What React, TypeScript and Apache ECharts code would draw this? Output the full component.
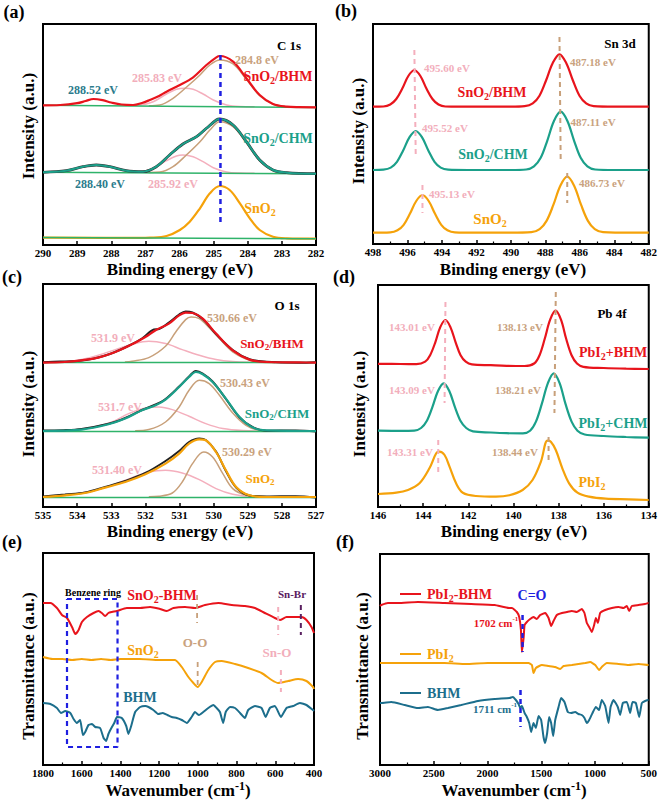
import React, { useEffect, useRef } from 'react';
import * as echarts from 'echarts';

const FONT = '"Liberation Serif", "Times New Roman", serif';
const COL = {
  red: '#e8141c', teal: '#1ba08a', orange: '#f5a20a', pink: '#f4afbd', tan: '#c8a07a',
  green: '#2fb36a', black: '#222222', dteal: '#1c6e8c', blue: '#1f1fe0', purple: '#5a2060',
  pinkLbl: '#f2aebb', tanLbl: '#c9a27e', lblTeal: '#2b7b8c',
};

// ---------- Panel (a) C 1s ----------
const aBhmEnv = [[290,139.7],[289.5,140],[289,141.8],[288.75,144],[288.52,146],[288.25,144.8],[288,142.5],[287.7,140.5],[287.36,140],[287.1,142],[286.87,145],[286.6,149],[286.38,153.3],[285.99,160],[285.6,167.7],[285.21,180],[284.92,187.7],[284.82,189],[284.43,183.3],[284.04,166.7],[283.65,150],[283.26,141],[282.86,138.3],[282.5,137.8],[282,137.7]];
const aBhmTan = [[286.9,139.3],[286.58,140],[286.19,146.7],[285.8,157.7],[285.4,170],[285.11,180],[284.82,185],[284.43,181],[284.04,165.7],[283.65,149.3],[283.26,140.7],[282.86,138],[282.5,137.8]];
const aBhmPink = [[287.5,139.6],[287.17,139.9],[286.77,143.3],[286.38,151],[286.09,155.7],[285.85,156.7],[285.6,155.7],[285.31,151],[285.01,145],[284.62,140],[284.23,138.5],[283.8,138.3]];
const aBhmBase = [[290,139.7],[282,137.5]];
const aChmEnv = [[290,72.7],[289.32,74.3],[288.83,78.3],[288.44,80],[288.04,78.3],[287.56,74.3],[287.07,73.3],[286.68,78.3],[286.29,90],[285.9,101],[285.5,108.3],[285.21,116.7],[284.92,125],[284.82,126],[284.43,120],[284.04,103.3],[283.65,85],[283.26,75],[282.86,72.3],[282,71.3]];
const aChmTan = [[286.9,72.6],[286.58,72.9],[286.19,78.3],[285.8,90],[285.4,103.3],[285.11,115],[284.82,123.3],[284.43,118.3],[284.04,102.3],[283.65,84.3],[283.26,74.3],[282.86,71.7],[282.5,71.4]];
const aChmPink = [[287.5,72.8],[287.17,73],[286.77,76.7],[286.38,84.3],[286.09,89],[285.9,90],[285.6,88.3],[285.31,83.3],[285.01,77.3],[284.62,73],[284.23,71.9],[283.8,71.7]];
const aChmBase = [[290,72.7],[282,71.3]];
const aSno2 = [[290,7.3],[287,7.2],[286.87,7.3],[286.38,9],[285.99,15],[285.7,23.3],[285.4,36.7],[285.11,51.7],[284.82,59],[284.53,55],[284.23,41.7],[283.94,26.7],[283.65,15],[283.26,8.3],[282.86,6.7],[282,6.3]];
const aSno2Base = [[290,7.5],[282,6.3]];
const aDash = [[284.8,23],[284.8,190]];

// ---------- Panel (b) Sn 3d ----------
const bBhm = [[498,137.3],[497.4,137.5],[497.0,139.5],[496.65,145],[496.3,155.5],[495.95,168],[495.6,174],[495.25,168],[494.9,155.5],[494.55,145],[494.2,139.5],[493.8,137.5],[493,137.3],[490,137.3],[489.2,137.8],[488.73,140.6],[488.34,148.3],[487.96,163.5],[487.57,181],[487.18,189.7],[486.79,181],[486.4,163.5],[486.02,148.3],[485.63,140.6],[485.2,137.8],[484,137.3],[482,137.3]];
const bChm = [[498,74],[497.4,74.4],[496.97,76.4],[496.61,82.2],[496.25,93.5],[495.88,106.8],[495.52,113],[495.16,106.8],[494.79,93.5],[494.43,82.2],[494.07,76.4],[493.64,74.4],[492.5,74],[490,74],[489.11,74.5],[488.66,77.6],[488.27,86.2],[487.89,103.2],[487.5,123],[487.11,132.3],[486.72,123],[486.33,103.2],[485.95,86.2],[485.56,77.6],[485.11,74.5],[484,74],[482,74]];
const bSno2 = [[498,11.3],[497,11.6],[496.58,13.7],[496.22,19.2],[495.86,30.2],[495.49,43],[495.13,49],[494.77,43],[494.4,30.2],[494.04,19.2],[493.68,13.7],[493.25,11.6],[492,11.3],[490,11.3],[488.81,11.8],[488.33,14.8],[487.93,23.1],[487.53,39.3],[487.13,58.3],[486.73,67.3],[486.33,58.3],[485.93,39.3],[485.53,23.1],[485.13,14.8],[484.65,11.8],[483,11.3],[482,11.3]];
const bDashPinkUp = [[495.6,194],[495.52,87]];
const bDashPinkLow = [[495.13,59],[495.13,31]];
const bDashTanUp = [[487.18,207],[487.11,84]];
const bDashTanLow = [[486.73,71],[486.73,41]];

// ---------- Panel (c) O 1s ----------
const cBhmEnv = [[535,144.4],[534.36,145],[533.87,146.7],[533.38,149.4],[532.88,155],[532.39,162.7],[532,170],[531.7,176.7],[531.31,183.4],[531.01,191.7],[530.82,194.4],[530.62,194],[530.32,188.4],[529.93,173.4],[529.44,156.7],[528.95,147.4],[528.45,145],[527.5,144.6],[527,144.4]];
const cBhmRaw = [[535,144.8],[534.5,145.5],[534,146],[533.5,148.5],[533,153.5],[532.5,161],[532.1,168.5],[531.75,177.5],[531.6,178],[531.31,184.5],[531.01,192.5],[530.82,195.5],[530.62,194.5],[530.32,188],[529.93,173],[529.44,157],[528.95,147.8],[528.45,145.3],[527.5,144.2],[527,144.8]];
const cBhmTan = [[532.6,145],[532.39,145.7],[531.9,149.4],[531.41,160.7],[531.11,175],[530.82,187.4],[530.66,190],[530.42,188.4],[530.13,179.4],[529.83,168.4],[529.44,155],[529.05,148],[528.65,145],[528.2,144.5]];
const cBhmPink = [[535,144.6],[534.36,145.4],[533.87,147.4],[533.38,151.7],[532.88,157.4],[532.39,162.7],[531.9,165.7],[531.41,163.4],[530.92,157.4],[530.42,151.7],[529.93,147.4],[529.44,145.4],[528.85,144.7],[528,144.4]];
const cBhmBase = [[535,144.4],[527,144.4]];
const cChmEnv = [[535,76],[533.87,77.4],[533.08,82.7],[532.59,88.4],[532.1,96.7],[531.7,101.7],[531.41,107.4],[531.01,120],[530.72,130],[530.52,135],[530.32,132.7],[530.03,125],[529.64,108.4],[529.24,90],[528.85,79.4],[528.45,76.7],[527,76]];
const cChmRaw = [[535,76.5],[534.4,76.8],[533.87,78],[533.08,83.2],[532.59,89],[532.1,97],[531.7,102.5],[531.41,108],[531.01,120.5],[530.72,130.5],[530.52,136],[530.32,133.5],[530.03,125.5],[529.64,108],[529.24,89.5],[528.85,79.8],[528.45,76.3],[527.6,76.5],[527,75.6]];
const cChmTan = [[532.3,76.2],[531.9,77.4],[531.41,85],[531.01,100],[530.72,116.7],[530.42,126.7],[530.13,123.4],[529.83,111.7],[529.44,94],[529.05,81.7],[528.65,76.7],[528.2,76]];
const cChmPink = [[535,76.1],[534.36,76.4],[533.57,79.4],[532.98,85],[532.49,93.4],[532,99],[531.6,100],[531.21,97.4],[530.72,90.7],[530.23,83.4],[529.73,78.4],[529.14,76.4],[528.5,76]];
const cChmBase = [[535,75.6],[527,75.6]];
const cSnoEnv = [[535,10],[534.36,11.7],[533.77,14],[533.18,19.4],[532.59,25],[532,32.7],[531.41,43.4],[531.01,53.4],[530.72,63.4],[530.42,67.7],[530.23,66.7],[529.93,55],[529.64,36.7],[529.34,20],[528.95,11.7],[528.45,10],[527,10]];
const cSnoRaw = [[535,10.5],[534.36,12.5],[533.77,14.5],[533.18,20],[532.59,26],[532,34],[531.41,46],[531.01,56],[530.72,65],[530.42,68.5],[530.23,67],[529.93,55.5],[529.64,36],[529.34,19.5],[528.95,11.5],[528.45,10.5],[527.6,10.8],[527,9.5]];
const cSnoTan = [[531.9,10.2],[531.6,10.7],[531.21,14],[530.92,25],[530.62,43.4],[530.29,55],[530.03,50],[529.73,33.4],[529.44,18.4],[529.05,11.7],[528.65,10],[528.2,10]];
const cSnoPink = [[535,10.1],[534.36,11.4],[533.57,16],[532.98,21.7],[532.39,29.4],[531.9,35],[531.41,36.7],[530.92,34],[530.42,27.4],[529.93,18.4],[529.44,12.7],[528.85,10.4],[528,10]];
const cSnoBase = [[535,9.4],[527,9.4]];

// ---------- Panel (d) Pb 4f ----------
const dBhm = [[146,143.2],[145,143],[144.3,142.9],[143.91,145.3],[143.69,151.8],[143.46,164.7],[143.24,179.9],[143.01,187],[142.79,179.9],[142.56,164.7],[142.34,151.8],[142.11,145.3],[141.84,142.6],[141,141.8],[140.3,141.2],[139.5,141],[139.08,143.5],[138.84,151.8],[138.61,168.2],[138.37,187.3],[138.13,196.3],[137.89,187.3],[137.66,168.2],[137.42,151.8],[137.18,143.5],[136.9,140.2],[136,139],[135,138.3],[134,138]];
const dChm = [[146,76.3],[145,76.2],[144.39,76.4],[144.09,79],[143.84,86],[143.59,99.9],[143.34,116],[143.09,123.7],[142.84,116],[142.59,99.9],[142.34,86],[142.09,79],[141.79,75.6],[141,74.5],[140.3,73.8],[139.58,73.6],[139.26,76.3],[139,85.4],[138.74,103.1],[138.47,123.9],[138.21,133.7],[137.95,123.9],[137.69,103.1],[137.42,85.4],[137.16,76.3],[136.84,72.5],[136,71],[135,70],[134,69.3]];
const dPbi2 = [[146,13],[145.19,14.3],[144.67,17],[144.16,23.7],[143.72,38.7],[143.42,53.7],[143.28,55.3],[143.05,52],[142.83,40.3],[142.54,23.7],[142.24,14.3],[141.66,11],[140.77,10.3],[140.18,11.7],[139.59,17],[139.15,27],[138.78,45.3],[138.49,66.3],[138.34,65.3],[138.12,57],[137.83,38.7],[137.53,23.7],[137.16,14.3],[136.65,10.3],[135.91,8.3],[134.88,7.7],[134,7]];
const dDashPinkUp = [[143.01,205],[143.05,104]];
const dDashPinkLow = [[143.33,67],[143.33,34]];
const dDashTanUp = [[138.12,215],[138.18,94]];
const dDashTanLow = [[138.44,70],[138.44,44]];

// ---------- Panel (e) FTIR ----------
const eSnoBhm = [[1800,162],[1762,162],[1728,157],[1702,150],[1676,147],[1650,138],[1633,131],[1616,135],[1599,143],[1573,148],[1539,152],[1513,154],[1496,152],[1479,149],[1462,152],[1444,153],[1418,154],[1367,157],[1298,157],[1247,158],[1195,156],[1161,154],[1126,157],[1066,158],[1015,157],[963,160],[894,162],[825,160],[757,159],[705,157],[654,152],[602,147],[576,145],[542,148],[499,148],[464,148],[439,145],[413,138],[400,132]];
const eSno2 = [[1800,108],[1750,106],[1700,106],[1650,105],[1600,106],[1550,105],[1500,106],[1450,105],[1400,106],[1350,106],[1300,106],[1200,105],[1126,105],[1118,105],[1083,98],[1049,88],[1023,82],[1001,78],[980,83],[946,95],[911,103],[877,104],[808,101],[740,97],[671,92],[619,85],[585,82],[533,84],[482,86],[439,84],[405,78],[400,76]];
const eBhm = [[1800,62],[1762,61],[1728,57],[1707,52],[1685,54],[1659,52],[1642,46],[1625,42],[1608,45],[1594,30],[1582,33],[1565,40],[1547,41],[1530,38],[1505,37],[1487,27],[1474,24],[1462,31],[1444,38],[1432,42],[1418,48],[1393,47],[1370,39],[1359,31],[1346,38],[1324,53],[1298,58],[1272,59],[1255,58],[1230,55],[1204,51],[1181,52],[1157,50],[1135,48],[1109,47],[1083,45],[1057,42],[1032,48],[1015,53],[994,50],[972,53],[946,57],[920,60],[903,57],[886,53],[869,42],[856,53],[834,58],[808,57],[782,52],[757,47],[740,55],[705,59],[671,57],[650,48],[628,57],[602,59],[571,48],[542,57],[508,59],[473,62],[439,60],[405,55],[400,54]];
const eRect = [[1676,166],[1415,166],[1415,18],[1676,18],[1676,166]];
const eDashOOUp = [[1004,170],[1004,142]];
const eDashOOLow = [[1001,103],[1001,78]];
const eDashSnOUp = [[585,158],[585,130]];
const eDashSnOLow = [[571,95],[571,73]];
const eDashSnBr = [[468,160],[468,130]];

// ---------- Panel (f) FTIR ----------
const fPbBhm = [[3000,159],[2988,160],[2926,162],[2833,162],[2647,163],[2399,162],[2151,161],[1934,160],[1800,157],[1773,157],[1727,153],[1705,148],[1689,135],[1680,113],[1664,127],[1655,140],[1634,143],[1603,146],[1572,148],[1541,146],[1510,150],[1464,152],[1432,147],[1408,139],[1386,144],[1355,150],[1308,152],[1262,153],[1215,154],[1169,153],[1123,156],[1098,152],[1076,142],[1054,138],[1029,133],[1008,140],[992,147],[973,142],[952,152],[905,155],[843,157],[781,158],[735,157],[704,159],[682,154],[657,159],[595,160],[534,161],[502,162],[500,162]];
const fPbi2 = [[3000,102],[2800,102],[2600,102],[2400,102],[2200,101],[2000,102],[1800,102],[1773,102],[1618,102],[1587,100],[1572,92],[1550,97],[1494,100],[1432,99],[1370,98],[1324,96],[1292,99],[1215,100],[1092,102],[1045,103],[998,100],[962,95],[937,98],[890,102],[781,101],[688,100],[595,101],[502,100],[500,100]];
const fBhm = [[3000,62],[2988,62],[2895,63],[2770,60],[2647,57],[2554,58],[2461,55],[2368,57],[2244,60],[2089,64],[1934,66],[1795,67],[1764,68],[1736,65],[1711,61],[1696,57],[1680,59],[1655,52],[1634,48],[1612,42],[1594,33],[1572,42],[1550,37],[1525,49],[1501,45],[1479,28],[1464,22],[1445,32],[1427,48],[1408,42],[1389,29],[1370,45],[1339,58],[1315,67],[1284,63],[1253,53],[1222,52],[1185,53],[1153,51],[1123,50],[1098,47],[1076,42],[1054,45],[1023,52],[992,58],[962,55],[937,65],[905,59],[874,42],[855,58],[828,65],[788,58],[766,50],[741,62],[704,63],[673,52],[651,63],[620,62],[589,48],[564,62],[534,64],[502,65],[500,65]];
const fDashPb = [[1674,150],[1674,113]];
const fDashBhm = [[1693,75],[1693,38]];

// axis ranges
const xRanges = [
  { min: 282, max: 290, interval: 1, minor: false },
  { min: 482, max: 498, interval: 2, minor: true },
  { min: 527, max: 535, interval: 1, minor: false },
  { min: 134, max: 146, interval: 2, minor: true },
  { min: 400, max: 1800, interval: 200, minor: true },
  { min: 500, max: 3000, interval: 500, minor: true },
];
const yMax = [221, 220, 223, 222, 212, 211];

const grids = [
  { left: 43, top: 24, width: 273, height: 221 },
  { left: 373, top: 24, width: 277, height: 220 },
  { left: 43, top: 284, width: 273, height: 223 },
  { left: 378, top: 285, width: 272, height: 222 },
  { left: 43, top: 553, width: 271, height: 212 },
  { left: 380, top: 554, width: 269, height: 211 },
];

function L(g: number, data: number[][], color: string, width: number, z = 3, smooth: any = 0.35) {
  return { type: 'line', xAxisIndex: g, yAxisIndex: g, data, symbol: 'none', showSymbol: false, smooth, silent: true, z, lineStyle: { color, width } };
}
function D(g: number, data: number[][], color: string, width = 2, z = 6) {
  return { type: 'line', xAxisIndex: g, yAxisIndex: g, data, symbol: 'none', showSymbol: false, smooth: false, silent: true, z, lineStyle: { color, width, type: [5, 4] } };
}

function rich(size: number, color: string) {
  const s = Math.round(size * 0.68);
  return {
    m: { font: `bold ${size}px ${FONT}`, fill: color, lineHeight: size + 4, verticalAlign: 'middle' },
    s: { font: `bold ${s}px ${FONT}`, fill: color, lineHeight: s, verticalAlign: 'bottom' },
    p: { font: `bold ${s}px ${FONT}`, fill: color, lineHeight: s, verticalAlign: 'top' },
  };
}
function T(x: number, y: number, text: string, color: string, size: number, align = 'center', rot = 0) {
  return {
    type: 'text', x, y, rotation: rot, z: 100, silent: true,
    style: {
      text, fill: color, font: `bold ${size}px ${FONT}`,
      align, verticalAlign: 'middle', textAlign: align, textVerticalAlign: 'middle',
      rich: rich(size, color),
    },
  };
}
function GL(x1: number, y1: number, x2: number, y2: number, color: string) {
  return { type: 'line', z: 100, silent: true, shape: { x1, y1, x2, y2 }, style: { stroke: color, lineWidth: 2 } };
}

export default function App() {
  const ref = useRef<HTMLDivElement>(null);
  useEffect(() => {
    if (!ref.current) return;
    const chart = echarts.init(ref.current, undefined, { renderer: 'svg' });
    const xAxis = xRanges.map((r, i) => ({
      gridIndex: i, type: 'value', min: r.min, max: r.max, interval: r.interval, inverse: true,
      axisLine: { show: true, onZero: false, lineStyle: { color: '#000', width: 2 } },
      axisTick: { show: true, inside: true, length: 4, lineStyle: { color: '#000', width: 1.5 } },
      minorTick: { show: r.minor, splitNumber: 2, length: 2.5, lineStyle: { color: '#000', width: 1.2 } },
      axisLabel: {
        show: true, color: '#000', fontSize: 11, fontWeight: 'bold', fontFamily: FONT, margin: 2,
        showMinLabel: true, showMaxLabel: true, formatter: (v: number) => String(v),
      },
      splitLine: { show: false }, minorSplitLine: { show: false },
    }));
    const yAxis = yMax.map((m, i) => ({
      gridIndex: i, type: 'value', min: 0, max: m,
      axisLine: { show: false }, axisTick: { show: false }, axisLabel: { show: false }, splitLine: { show: false },
    }));
    const series: any[] = [
      // (a)
      L(0, aBhmPink, COL.pink, 1.5, 2), L(0, aBhmTan, COL.tan, 1.5, 2), L(0, aBhmBase, COL.green, 1.5, 3, false), L(0, aBhmEnv, COL.red, 2.2, 4),
      L(0, aChmPink, COL.pink, 1.5, 2), L(0, aChmTan, COL.tan, 1.5, 2), L(0, aChmBase, COL.green, 1.5, 3, false), L(0, aChmEnv, '#333', 2.8, 3), L(0, aChmEnv, COL.teal, 2.0, 4),
      L(0, aSno2, COL.orange, 2.2, 4), L(0, aSno2Base, COL.green, 1.5, 5, false),
      D(0, aDash, COL.blue, 2.5),
      // (b)
      L(1, bBhm, COL.red, 2.2, 4), L(1, bChm, COL.teal, 2.2, 4), L(1, bSno2, COL.orange, 2.2, 4),
      D(1, bDashPinkUp, COL.pink), D(1, bDashPinkLow, COL.pink), D(1, bDashTanUp, COL.tan), D(1, bDashTanLow, COL.tan),
      // (c)
      L(2, cBhmPink, COL.pink, 1.5, 2), L(2, cBhmTan, COL.tan, 1.5, 2), L(2, cBhmBase, COL.green, 1.5, 3, false), L(2, cBhmRaw, COL.black, 2, 3), L(2, cBhmEnv, COL.red, 2.2, 4),
      L(2, cChmPink, COL.pink, 1.5, 2), L(2, cChmTan, COL.tan, 1.5, 2), L(2, cChmBase, COL.green, 1.5, 3, false), L(2, cChmRaw, COL.black, 2, 3), L(2, cChmEnv, COL.teal, 2.2, 4),
      L(2, cSnoPink, COL.pink, 1.5, 2), L(2, cSnoTan, COL.tan, 1.5, 2), L(2, cSnoBase, COL.green, 1.5, 3, false), L(2, cSnoRaw, COL.black, 2, 3), L(2, cSnoEnv, COL.orange, 2.2, 4),
      // (d)
      L(3, dBhm, COL.red, 2.2, 4), L(3, dChm, COL.teal, 2.2, 4), L(3, dPbi2, COL.orange, 2.2, 4),
      D(3, dDashPinkUp, COL.pink), D(3, dDashPinkLow, COL.pink), D(3, dDashTanUp, COL.tan), D(3, dDashTanLow, COL.tan),
      // (e)
      L(4, eSnoBhm, COL.red, 2, 4, 0.2), L(4, eSno2, COL.orange, 2, 4, 0.2), L(4, eBhm, COL.dteal, 2, 4, 0.15),
      D(4, eRect, COL.blue, 2.2, 7),
      D(4, eDashOOUp, COL.tan, 1.8), D(4, eDashOOLow, COL.tan, 1.8), D(4, eDashSnOUp, COL.pink, 2), D(4, eDashSnOLow, COL.pink, 2), D(4, eDashSnBr, COL.purple, 2),
      // (f)
      L(5, fPbBhm, COL.red, 2, 4, 0.15), L(5, fPbi2, COL.orange, 2, 4, 0.15), L(5, fBhm, COL.dteal, 2, 4, 0.15),
      D(5, fDashPb, COL.blue, 2.5, 7), D(5, fDashBhm, COL.blue, 2.5, 7),
    ];
    const graphic: any[] = [
      // panel letters
      T(14, 12, '(a)', '#000', 18), T(346, 11, '(b)', '#000', 18), T(12, 277, '(c)', '#000', 18),
      T(344, 277, '(d)', '#000', 18), T(12, 542, '(e)', '#000', 18), T(345, 542, '(f)', '#000', 18),
      // axis titles
      T(180, 269, 'Binding energy (eV)', '#000', 17), T(513, 269, 'Binding energy (eV)', '#000', 17),
      T(180, 531, 'Binding energy (eV)', '#000', 17), T(514, 531, 'Binding energy (eV)', '#000', 17),
      T(178, 790, '{m|Wavenumber (cm}{p|-1}{m|)}', '#000', 17), T(514, 790, '{m|Wavenumber (cm}{p|-1}{m|)}', '#000', 17),
      T(28, 126, 'Intensity (a.u.)', '#000', 17, 'center', Math.PI / 2),
      T(358, 131, 'Intensity (a.u.)', '#000', 17, 'center', Math.PI / 2),
      T(28, 404, 'Intensity (a.u.)', '#000', 17, 'center', Math.PI / 2),
      T(359, 404, 'Intensity (a.u.)', '#000', 17, 'center', Math.PI / 2),
      T(28, 666, 'Transmittance (a.u.)', '#000', 17, 'center', Math.PI / 2),
      T(362, 666, 'Transmittance (a.u.)', '#000', 17, 'center', Math.PI / 2),
      // (a)
      T(289, 45, 'C 1s', '#000', 13), T(257, 60, '284.8 eV', COL.tanLbl, 12), T(157, 78, '285.83 eV', COL.pinkLbl, 12),
      T(278, 76, '{m|SnO}{s|2}{m|/BHM}', COL.red, 14), T(93, 90, '288.52 eV', COL.lblTeal, 12),
      T(278, 138, '{m|SnO}{s|2}{m|/CHM}', COL.teal, 14), T(100, 184, '288.40 eV', COL.lblTeal, 12),
      T(173, 184, '285.92 eV', COL.pinkLbl, 12), T(260, 208, '{m|SnO}{s|2}', COL.orange, 14),
      // (b)
      T(620, 43, 'Sn 3d', '#000', 13), T(447, 68, '495.60 eV', COL.pinkLbl, 11), T(593, 62, '487.18 eV', COL.tanLbl, 11),
      T(492, 92, '{m|SnO}{s|2}{m|/BHM}', COL.red, 14), T(445, 128, '495.52 eV', COL.pinkLbl, 11), T(593, 122, '487.11 eV', COL.tanLbl, 11),
      T(493, 154, '{m|SnO}{s|2}{m|/CHM}', COL.teal, 14), T(452, 194, '495.13 eV', COL.pinkLbl, 11), T(602, 183, '486.73 eV', COL.tanLbl, 11),
      T(490, 219, '{m|SnO}{s|2}', COL.orange, 15),
      // (c)
      T(287, 305, 'O 1s', '#000', 13), T(232, 318, '530.66 eV', COL.tanLbl, 12), T(113, 338, '531.9 eV', COL.pinkLbl, 12),
      T(272, 343, '{m|SnO}{s|2}{m|/BHM}', COL.red, 13), T(245, 383, '530.43 eV', COL.tanLbl, 12), T(120, 407, '531.7 eV', COL.pinkLbl, 12),
      T(277, 413, '{m|SnO}{s|2}{m|/CHM}', COL.teal, 13), T(247, 452, '530.29 eV', COL.tanLbl, 12), T(117, 470, '531.40 eV', COL.pinkLbl, 12),
      T(260, 478, '{m|SnO}{s|2}', COL.orange, 13),
      // (d)
      T(612, 313, 'Pb 4f', '#000', 13), T(412, 327, '143.01 eV', COL.pinkLbl, 11), T(520, 327, '138.13 eV', COL.tanLbl, 11),
      T(613, 352, '{m|PbI}{s|2}{m|+BHM}', COL.red, 14), T(412, 390, '143.09 eV', COL.pinkLbl, 11), T(518, 390, '138.21 eV', COL.tanLbl, 11),
      T(613, 423, '{m|PbI}{s|2}{m|+CHM}', COL.teal, 14), T(410, 452, '143.31 eV', COL.pinkLbl, 11), T(515, 452, '138.44 eV', COL.tanLbl, 11),
      T(592, 482, '{m|PbI}{s|2}', COL.orange, 14),
      // (e)
      T(93, 592, 'Benzene ring', '#000', 10), T(162, 595, '{m|SnO}{s|2}{m|-BHM}', COL.red, 14), T(292, 594, 'Sn-Br', COL.purple, 11),
      T(195, 642, 'O-O', COL.tanLbl, 13), T(143, 650, '{m|SnO}{s|2}', COL.orange, 14), T(277, 652, 'Sn-O', COL.pinkLbl, 13),
      T(140, 697, 'BHM', COL.dteal, 14),
      // (f)
      GL(400, 594, 421, 594, COL.red), T(427, 594, '{m|PbI}{s|2}{m|-BHM}', COL.red, 14, 'left'),
      GL(400, 654, 421, 654, COL.orange), T(427, 654, '{m|PbI}{s|2}', COL.orange, 14, 'left'),
      GL(400, 693, 421, 693, COL.dteal), T(427, 693, 'BHM', COL.dteal, 14, 'left'),
      T(532, 595, 'C=O', COL.blue, 14),
      T(496, 623, '{m|1702 cm}{p|-1}', COL.red, 11), T(495, 709, '{m|1711 cm}{p|-1}', COL.dteal, 11),
    ];
    chart.setOption({
      animation: false,
      backgroundColor: '#ffffff',
      grid: grids.map((g) => ({ ...g, show: true, borderColor: '#000', borderWidth: 2, backgroundColor: 'transparent', containLabel: false })),
      xAxis, yAxis, series, graphic,
    });
    return () => chart.dispose();
  }, []);
  return <div ref={ref} style={{ position: 'absolute', left: 0, top: 0, width: 660, height: 801, background: '#fff' }} />;
}
